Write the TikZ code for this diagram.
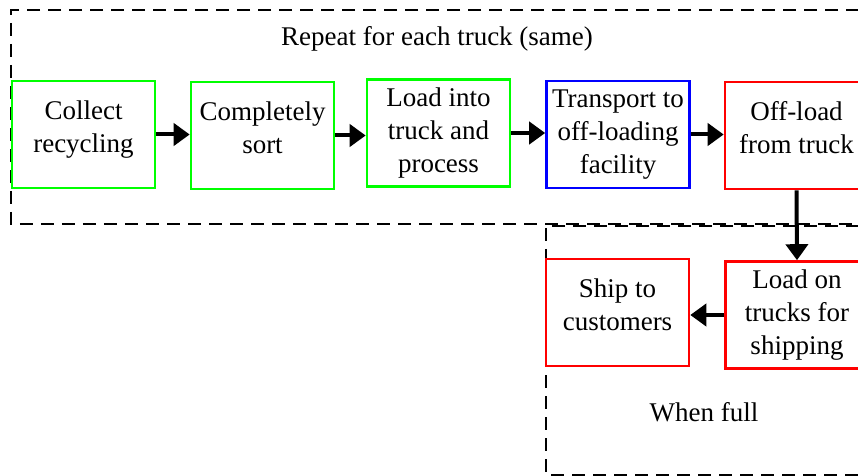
\documentclass[tikz,border=0pt]{standalone}
\usepackage{fontspec}
\setmainfont{Liberation Serif}
\usetikzlibrary{arrows.meta}
\definecolor{pgreen}{RGB}{0,255,0}
\definecolor{pblue}{RGB}{0,0,255}
\definecolor{pred}{RGB}{255,0,0}
\begin{document}
\begin{tikzpicture}[x=0.5pt,y=-0.5pt,
  procbox/.style={draw, line width=1.3pt, minimum width=71.5pt, minimum height=53.5pt, align=center, inner sep=1pt,
    font=\fontsize{13.5}{16.5}\selectfont},
  twoline/.style={text depth=8pt},
  grp/.style={draw, line width=1.4pt, dash pattern=on 6.5pt off 4pt},
  flow/.style={line width=2pt, -{Triangle[length=8pt,width=11pt]}},
  lbl/.style={font=\fontsize{13.5}{16.5}\selectfont, inner sep=0pt}]
\useasboundingbox (0,0) rectangle (858,476);
\clip (0,0) rectangle (858,476);
% groups
\draw[grp] (880,10) -- (11,10) -- (11,224) -- (880,224);
\draw[grp] (880,226) -- (546,226) -- (546,475) -- (880,475);
\node[lbl] (title) at (437,39) {Repeat for each truck (same)};
\node[lbl] (full) at (704,412) {When full};
% boxes
\node[procbox, twoline, draw=pgreen] (c1) at (83.5,134.5) {Collect\\recycling};
\node[procbox, twoline, draw=pgreen] (c2) at (262.5,135.5) {Completely\\sort};
\node[procbox, draw=pgreen] (c3) at (438.5,133) {Load into\\truck and\\process};
\node[procbox, draw=pblue] (c4) at (618,134.5) {Transport to\\off-loading\\facility};
\node[procbox, twoline, draw=pred] (c5) at (796.5,135.5) {Off-load\\from truck};
\node[procbox, draw=pred] (c6) at (797,315) {Load on\\trucks for\\shipping};
\node[procbox, twoline, draw=pred] (c7) at (617.5,312.5) {Ship to\\customers};
% connectors
\draw[flow] (c1.east) -- (c1.east -| c2.west);
\draw[flow] (c2.east) -- (c2.east -| c3.west);
\draw[flow] (c3.east) -- (c3.east -| c4.west);
\draw[flow] (c4.east) -- (c4.east -| c5.west);
\draw[flow] (c5.south) -- (c6.north);
\draw[flow] (c6.west) -- (c6.west -| c7.east);
\end{tikzpicture}
\end{document}
